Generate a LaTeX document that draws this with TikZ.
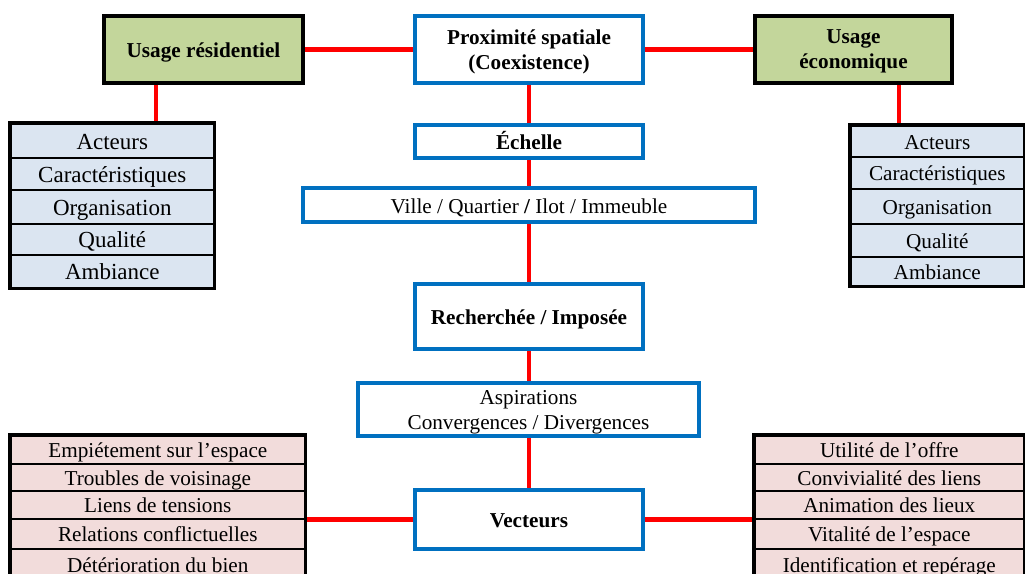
\documentclass[tikz,border=0pt]{standalone}
\usepackage{fontspec}
\setmainfont{Liberation Serif}
\usetikzlibrary{fit}
\definecolor{linkred}{HTML}{FF0000}
\definecolor{frameblue}{HTML}{0070C0}
\definecolor{usagegreen}{HTML}{C3D69B}
\definecolor{attrblue}{HTML}{DBE5F1}
\definecolor{attrpink}{HTML}{F2DCDB}

\begin{document}
\begin{tikzpicture}[x=0.5pt,y=-0.5pt,
  link/.style={draw=linkred,line width=2.1pt},
  usage/.style={draw=black,line width=1.8pt,fill=usagegreen,align=center,inner sep=0pt,
    font=\fontsize{10.6}{12.5}\selectfont\bfseries},
  stage/.style={draw=frameblue,line width=1.6pt,fill=white,align=center,inner sep=0pt,
    font=\fontsize{10.6}{12.5}\selectfont},
  boldstage/.style={stage,font=\fontsize{10.6}{12.5}\selectfont\bfseries},
  oneline/.style={text height=9pt,text depth=1pt},
  twoline/.style={text depth=0pt},
  row/.style={draw=black,line width=0.8pt,inner sep=0pt,anchor=north west,
    text height=8.8pt,text depth=1pt,font=\fontsize{10.6}{12.5}\selectfont},
  bigrow/.style={row,text height=9.4pt,text depth=1pt,font=\fontsize{11.5}{13.5}\selectfont},
  frame/.style={draw=black,line width=1.8pt,inner sep=0pt},
]
\useasboundingbox (0,0) rectangle (1025,574);
\clip (0,0) rectangle (1025,574);

% top row: the two usages around the central notion
\node[usage,oneline,minimum width=99.5pt,minimum height=33.5pt] (res) at (203.5,49.5) {Usage résidentiel};
\node[boldstage,twoline,minimum width=114pt,minimum height=33.5pt] (prox) at (529,49.5) {Proximité spatiale\\(Coexistence)};
\node[usage,twoline,minimum width=98.5pt,minimum height=33.5pt] (eco) at (853.5,49.5) {Usage\\économique};

% central column
\node[boldstage,oneline,minimum width=114pt,minimum height=16.5pt] (echelle) at (529,141.5) {Échelle};
\node[stage,oneline,minimum width=226pt,minimum height=17pt] (ville) at (529,205) {Ville / Quartier {\bfseries /} Ilot / Immeuble};
\node[boldstage,oneline,minimum width=114pt,minimum height=32.5pt] (rech) at (529,316.5) {Recherchée / Imposée};
\node[stage,twoline,minimum width=170.5pt,minimum height=26.5pt] (asp) at (528.5,409.5) {Aspirations\\Convergences / Divergences};
\node[boldstage,oneline,minimum width=114pt,minimum height=29.5pt] (vect) at (529,519.5) {Vecteurs};

% attributes of the residential usage
\node[bigrow,fill=attrblue,minimum width=101.5pt,minimum height=17pt] (ul1) at (10,123) {Acteurs};
\node[bigrow,fill=attrblue,minimum width=101.5pt,minimum height=16pt] (ul2) at (10,157) {Caractéristiques};
\node[bigrow,fill=attrblue,minimum width=101.5pt,minimum height=17pt] (ul3) at (10,189) {Organisation};
\node[bigrow,fill=attrblue,minimum width=101.5pt,minimum height=15.5pt] (ul4) at (10,223) {Qualité};
\node[bigrow,fill=attrblue,minimum width=101.5pt,minimum height=16.5pt] (ul5) at (10,254) {Ambiance};
\node[frame,fit=(ul1)(ul5)] (ul) {};

% attributes of the economic usage
\node[row,fill=attrblue,minimum width=86.5pt,minimum height=15.5pt] (ur1) at (850,125) {Acteurs};
\node[row,fill=attrblue,minimum width=86.5pt,minimum height=16pt] (ur2) at (850,156) {Caractéristiques};
\node[row,fill=attrblue,minimum width=86.5pt,minimum height=17.5pt] (ur3) at (850,188) {Organisation};
\node[row,fill=attrblue,minimum width=86.5pt,minimum height=16.5pt] (ur4) at (850,223) {Qualité};
\node[row,fill=attrblue,minimum width=86.5pt,minimum height=14.5pt] (ur5) at (850,256) {Ambiance};
\node[frame,fit=(ur1)(ur5)] (ur) {};

% negative vectors
\node[row,fill=attrpink,minimum width=147pt,minimum height=14pt] (bl1) at (10,435) {Empiétement sur l’espace};
\node[row,fill=attrpink,minimum width=147pt,minimum height=13.5pt] (bl2) at (10,463) {Troubles de voisinage};
\node[row,fill=attrpink,minimum width=147pt,minimum height=14pt] (bl3) at (10,490) {Liens de tensions};
\node[row,fill=attrpink,minimum width=147pt,minimum height=15pt] (bl4) at (10,518) {Relations conflictuelles};
\node[row,fill=attrpink,minimum width=147pt,minimum height=15.5pt] (bl5) at (10,548) {Détérioration du bien};
\node[frame,fit=(bl1)(bl5)] (bl) {};

% positive vectors
\node[row,fill=attrpink,minimum width=134.5pt,minimum height=14pt] (br1) at (754,435) {Utilité de l’offre};
\node[row,fill=attrpink,minimum width=134.5pt,minimum height=13.5pt] (br2) at (754,463) {Convivialité des liens};
\node[row,fill=attrpink,minimum width=134.5pt,minimum height=14pt] (br3) at (754,490) {Animation des lieux};
\node[row,fill=attrpink,minimum width=134.5pt,minimum height=15pt] (br4) at (754,518) {Vitalité de l’espace};
\node[row,fill=attrpink,minimum width=134.5pt,minimum height=15.5pt] (br5) at (754,548) {Identification et repérage};
\node[frame,fit=(br1)(br5)] (br) {};

% red connectors
\draw[link] (res.east) -- (prox.west);
\draw[link] (prox.east) -- (eco.west);
\coordinate (resdrop) at ([xshift=27pt]res.south west);
\coordinate (ecodrop) at ([xshift=73pt]eco.south west);
\draw[link] (resdrop) -- (resdrop |- ul.north);
\draw[link] (ecodrop) -- (ecodrop |- ur.north);
\draw[link] (prox.south) -- (echelle.north);
\draw[link] (echelle.south) -- (ville.north);
\draw[link] (ville.south) -- (rech.north);
\draw[link] (rech.south) -- (rech.south |- asp.north);
\draw[link] (rech.south |- asp.south) -- (vect.north);
\draw[link] (vect.west) -- (vect.west -| bl.east);
\draw[link] (vect.east) -- (vect.east -| br.west);
\end{tikzpicture}
\end{document}
